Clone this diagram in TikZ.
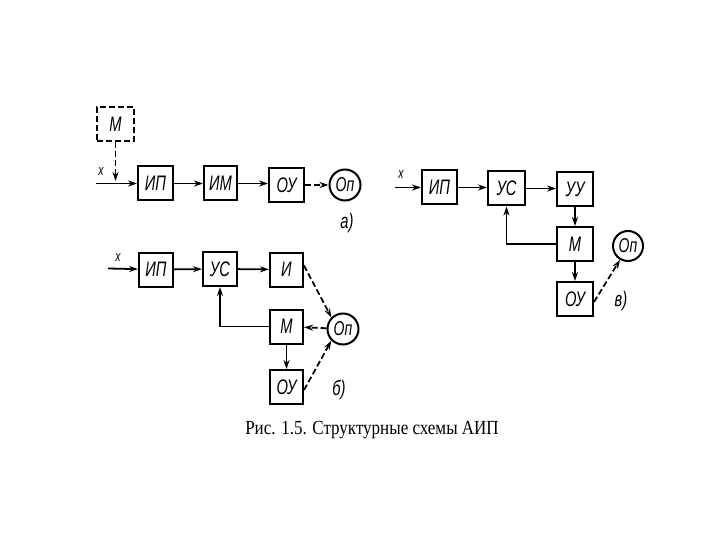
\documentclass[tikz,border=0pt]{standalone}
\usepackage{fontspec}
\setmainfont{Liberation Serif}
\newfontfamily\gost{Liberation Sans}
\usetikzlibrary{arrows.meta}
\newcommand{\nar}[1]{\scalebox{0.7}[1]{#1}}
\begin{document}
\begin{tikzpicture}[x=1pt,y=-1pt,
  blk/.style={draw,line width=2pt,minimum width=#1,minimum height=34pt,inner sep=0pt,font=\gost\itshape\fontsize{21}{21}\selectfont},
  blk/.default=35pt,
  opc/.style={draw,circle,line width=2pt,minimum size=31pt,inner sep=0pt,font=\gost\itshape\fontsize{20}{20}\selectfont},
  con/.style={line width=1.8pt,-{Stealth[length=9pt,width=6pt]}},
  dcon/.style={con,dash pattern=on 6pt off 3pt},
  lab/.style={font=\gost\itshape\fontsize{15}{15}\selectfont},
  tag/.style={font=\gost\itshape\fontsize{21}{21}\selectfont}]
\useasboundingbox (0,0) rectangle (720,540);
% ---- a)
\node[blk=37pt,dash pattern=on 6pt off 3pt] (Ma) at (115.5,124.5) {\nar{М}};
\node[blk] (IPa) at (155.5,183.5) {\nar{ИП}};
\node[blk=33pt] (IMa) at (220.5,183.5) {\nar{ИМ}};
\node[blk] (OUa) at (286.5,185) {\nar{ОУ}};
\node[opc] (Opa) at (345,185) {\nar{Оп}};
\coordinate (xa) at (96,183.5);
\coordinate (ja) at (115.5,181);
\node[lab] (la) at (101,172) {\nar{х}};
\node[tag] (ta) at (347,223) {\nar{а)}};
\draw[con] (xa) -- (IPa);
\draw[dcon] (Ma) -- (ja);
\draw[con] (IPa) -- (IMa);
\draw[con] (IMa) -- (IMa -| OUa.west);
\draw[dcon] (OUa) -- (Opa);
% ---- b)
\node[blk=34pt] (IPb) at (156,269.5) {\nar{ИП}};
\node[blk=34pt] (USb) at (220,269) {\nar{УС}};
\node[blk=33pt] (Ib) at (286.5,269.5) {\nar{И}};
\node[blk=33pt] (Mb) at (286.5,326.5) {\nar{М}};
\node[opc] (Opb) at (343,329) {\nar{Оп}};
\node[blk=33pt] (OUb) at (286.5,387) {\nar{ОУ}};
\coordinate (xb) at (108,268.5);
\node[lab] (lb) at (118,258) {\nar{х}};
\node[tag] (tb) at (339,390) {\nar{б)}};
\draw[con] (xb) -- (IPb);
\draw[con] (IPb) -- (USb);
\draw[con] (USb) -- (Ib);
\draw[con] (Mb.west) -| (USb.south);
\draw[dcon] ([yshift=4pt]Ib.east) -- (Opb.135);
\draw[dcon] (Opb) -- (Mb);
\draw[con] (Mb) -- (OUb);
\draw[dcon] ([yshift=-3pt]OUb.east) -- (Opb.225);
% ---- c)
\node[blk] (IPc) at (439.5,187.5) {\nar{ИП}};
\node[blk=37pt] (USc) at (506.5,188.5) {\nar{УС}};
\node[blk=36pt] (UUc) at (575,189.5) {\nar{УУ}};
\node[blk=36pt] (Mc) at (575,244) {\nar{М}};
\node[opc,minimum size=30pt] (Opc) at (628,246) {\nar{Оп}};
\node[blk=36pt] (OUc) at (575,299) {\nar{ОУ}};
\coordinate (xc) at (395,187.5);
\node[lab] (lc) at (401,175) {\nar{х}};
\node[tag] (tc) at (621,301) {\nar{в)}};
\draw[con] (xc) -- (IPc);
\draw[con] (IPc) -- (IPc -| USc.west);
\draw[con] (USc) -- (USc -| UUc.west);
\draw[con] (UUc) -- (Mc);
\draw[con] (Mc.west) -| (USc.south);
\draw[con] (Mc) -- (OUc);
\draw[dcon] ([yshift=-3pt]OUc.east) -- (Opc.240);
% caption
\node (cap) at (372,430) {\fontsize{20}{20}\selectfont\scalebox{0.85}[1]{Рис. 1.5. Структурные схемы АИП}};
\end{tikzpicture}
\end{document}
